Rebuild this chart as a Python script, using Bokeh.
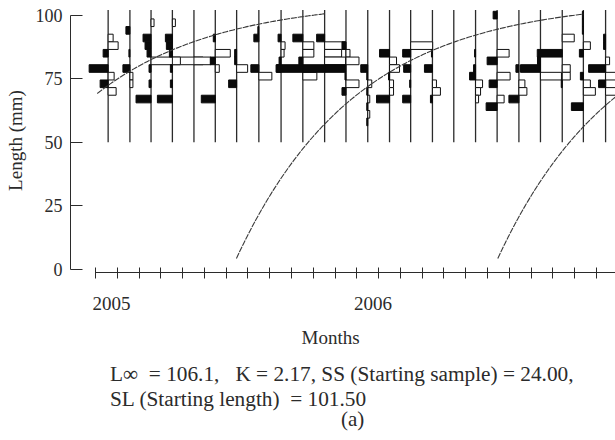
import numpy as np
from bokeh.plotting import figure
from bokeh.models import Range1d, FixedTicker, Title, ColumnDataSource
from bokeh.embed import file_html
from bokeh.resources import INLINE

# ---------------- data ----------------
month_ticks = list(range(24))              # monthly tick marks (Jan 2005 ...)
year_tick_pos = [0.73, 12.74]
year_labels = ["2005", "2006"]
y_ticks = [0, 25, 50, 75, 100]

# sampling dates (months since first tick)
sample_month = [0.58, 1.58, 2.55, 3.53, 4.52, 5.50, 6.48, 7.50, 8.52, 9.52,
                10.52, 11.50, 12.50, 13.50, 14.47, 15.47, 16.45, 17.45,
                18.44, 19.44, 20.43, 21.43, 22.40, 23.42]

class_width = 3.0
line_low, line_high = 50.0, 102.0          # length range of each sample

# restructured scores: sample index, class mid-length (mm), score (+ white / - black)
bar_sample = [0, 0, 0, 0, 0, 0, 0,
              1, 1, 1, 1, 1,
              2, 2, 2, 2, 2, 2, 2, 2,
              3, 3, 3, 3, 3, 3, 3, 3,
              4,
              5, 5, 5, 5, 5,
              6, 6, 6, 6,
              7, 7, 7, 7,
              8, 8, 8, 8, 8,
              9, 9, 9, 9, 9, 9,
              10, 10, 10, 10, 10,
              11, 11, 11, 11, 11, 11, 11,
              12, 12, 12, 12, 12, 12, 12, 12,
              13, 13, 13, 13, 13, 13, 13,
              14, 14, 14, 14, 14,
              15, 15, 15, 15, 15,
              17, 17, 17, 17, 17, 17,
              18, 18, 18, 18, 18, 18, 18,
              19, 19, 19, 19,
              20, 20, 20,
              21, 21, 21, 21, 21,
              22, 22, 22, 22, 22, 22, 22, 22, 22,
              23, 23, 23, 23, 23, 23, 23]
bar_length = [91, 88, 85, 79, 76, 73, 70,
              94, 85, 79, 76, 73,
              97, 91, 88, 85, 82, 79, 73, 67,
              97, 91, 88, 85, 82, 79, 73, 67,
              82,
              91, 85, 82, 79, 67,
              85, 82, 79, 73,
              94, 91, 79, 76,
              91, 88, 85, 82, 79,
              91, 88, 85, 82, 79, 76,
              91, 88, 85, 82, 79,
              88, 85, 82, 79, 76, 73, 70,
              79, 76, 73, 70, 67, 64, 61, 58,
              85, 82, 79, 76, 73, 70, 67,
              88, 85, 79, 73, 67,
              85, 79, 73, 70, 67,
              85, 79, 76, 73, 70, 67,
              100, 85, 82, 76, 73, 67, 64,
              79, 73, 70, 67,
              82, 79, 76,
              91, 85, 79, 76, 73,
              100, 97, 94, 88, 85, 76, 73, 70, 64,
              91, 88, 82, 79, 76, 73, 70]
bar_score = [0.5, 1.0, -0.5, -1.9, 0.6, -0.8, 0.8,
             -0.4, -0.1, -0.7, 0.3, 0.3,
             0.3, -0.8, -0.6, -0.4, 5.2, -0.2, -0.2, -1.5,
             0.3, -0.7, -0.6, -0.3, 0.8, -0.2, -0.2, -1.5,
             1.7,
             -0.2, 1.5, -0.5, 0.4, -1.4,
             -0.2, -0.2, 1.1, -0.8,
             -0.1, -0.5, -0.8, 1.3,
             -0.3, 0.4, 0.3, -0.2, -0.5,
             -1.0, 1.1, 1.1, -0.4, -2.6, 1.4,
             -0.8, 2.1, 1.7, 2.1, -2.2,
             -0.4, 0.4, 1.3, -2.1, -0.1, 1.3, -0.4,
             -0.7, -0.1, 0.4, -0.1, 0.2, -0.1, 0.2, -0.1,
             -1.0, 0.7, 1.0, -0.1, 0.4, 0.4, -1.3,
             2.2, -0.8, -0.7, -0.1, -0.8,
             -0.1, -0.8, 0.4, 0.8, -0.2,
             -0.1, -0.2, -0.6, 0.7, 0.5, 0.3,
             -0.4, 1.2, -1.0, 1.3, -0.8, 0.7, -1.1,
             -0.3, 0.6, 0.8, -1.0,
             -0.3, -2.0, 2.1,
             1.2, -2.5, 0.8, 0.8, -0.1,
             -0.1, -0.1, -0.1, 0.7, -0.4, -0.3, 0.7, 1.2, -1.2,
             -0.2, -0.2, 0.4, -1.7, 1.0, -0.7, 1.0]
score_to_month = 0.459                      # horizontal size of one score unit

# von Bertalanffy growth parameters (ELEFAN fit)
L_inf = 106.1
K = 2.17
cohort_zero_month = [-5.76, 6.24, 18.24]    # month at which each cohort has length 0
curve_start = [0.08, 6.47, 18.47]
curve_end = [10.53, 22.40, 23.875]

# ---------------- figure ----------------
INK = "#2b2b2b"
SERIF = "Liberation Serif"
NB = "\u00a0"

p = figure(frame_width=545, frame_height=264,
           x_range=Range1d(-1.148, 23.875), y_range=Range1d(-1.2, 102.6),
           output_backend="svg", toolbar_location=None,
           min_border_left=70, min_border_right=0, min_border_top=8, min_border_bottom=168)
p.outline_line_color = None
p.grid.visible = False
p.background_fill_color = "white"
p.border_fill_color = "white"

# sample baselines
p.segment(x0=sample_month, y0=[line_low] * len(sample_month),
          x1=sample_month, y1=[line_high] * len(sample_month),
          line_color=INK, line_width=1.3)

# bars
xs = np.array([sample_month[i] for i in bar_sample])
sc = np.array(bar_score) * score_to_month
ln = np.array(bar_length, dtype=float)
left = xs + np.minimum(sc, 0)
right = xs + np.maximum(sc, 0)
pos = sc > 0
src_w = ColumnDataSource(dict(left=left[pos], right=right[pos],
                              bottom=ln[pos] - class_width / 2, top=ln[pos] + class_width / 2))
src_b = ColumnDataSource(dict(left=left[~pos], right=right[~pos],
                              bottom=ln[~pos] - class_width / 2, top=ln[~pos] + class_width / 2))
p.quad(left="left", right="right", bottom="bottom", top="top", source=src_w,
       fill_color="white", line_color="#111111", line_width=1)
p.quad(left="left", right="right", bottom="bottom", top="top", source=src_b,
       fill_color="#0a0a0a", line_color="#0a0a0a", line_width=1)

# growth curves
for m0, a, b in zip(cohort_zero_month, curve_start, curve_end):
    t = np.linspace(a, b, 200)
    L = L_inf * (1 - np.exp(-K * (t - m0) / 12.0))
    p.line(t, L, line_color="#3a3a3a", line_width=1.1, line_dash="6 1")

# x axis
xa = p.xaxis[0]
xa.ticker = FixedTicker(ticks=year_tick_pos, minor_ticks=month_ticks)
xa.major_label_overrides = {pos_: lab for pos_, lab in zip(year_tick_pos, year_labels)}
xa.major_tick_in = 0
xa.major_tick_out = 0
xa.minor_tick_in = 5
xa.minor_tick_out = 6
xa.minor_tick_line_color = INK
xa.axis_line_color = INK
xa.bounds = (0, 23.875)
xa.major_label_text_font = SERIF
xa.major_label_text_font_size = "19px"
xa.major_label_text_color = INK
xa.major_label_standoff = 18

# y axis
ya = p.yaxis[0]
ya.ticker = FixedTicker(ticks=y_ticks, minor_ticks=[])
ya.major_tick_in = 12
ya.major_tick_out = 0
ya.minor_tick_in = 0
ya.minor_tick_out = 0
ya.major_tick_line_color = INK
ya.axis_line_color = INK
ya.bounds = (0, 100)
ya.major_label_text_font = SERIF
ya.major_label_text_font_size = "18px"
ya.major_label_text_color = INK
ya.major_label_standoff = 8
ya.axis_label = "Length (mm)"
ya.axis_label_text_font = SERIF
ya.axis_label_text_font_size = "19px"
ya.axis_label_text_font_style = "normal"
ya.axis_label_text_color = INK
ya.axis_label_standoff = 7

def add_title(text, offset, size, standoff):
    t = Title(text=text, align="left", offset=offset, standoff=standoff,
              text_font=SERIF, text_font_size=size, text_font_style="normal",
              text_color=INK)
    p.add_layout(t, "below")

add_title("Months", 231, "19px", 23.5)
add_title("L\u221e" + NB + " = 106.1," + NB + NB + " K = 2.17, SS (Starting sample) = 24.00,",
          39.5, "21.3px", 0.5)
add_title("SL (Starting length)" + NB + " = 101.50", 39.5, "21.3px", -4)
add_title("(a)", 270.5, "21px", -8)

open("out.html", "w").write(file_html(p, INLINE))
